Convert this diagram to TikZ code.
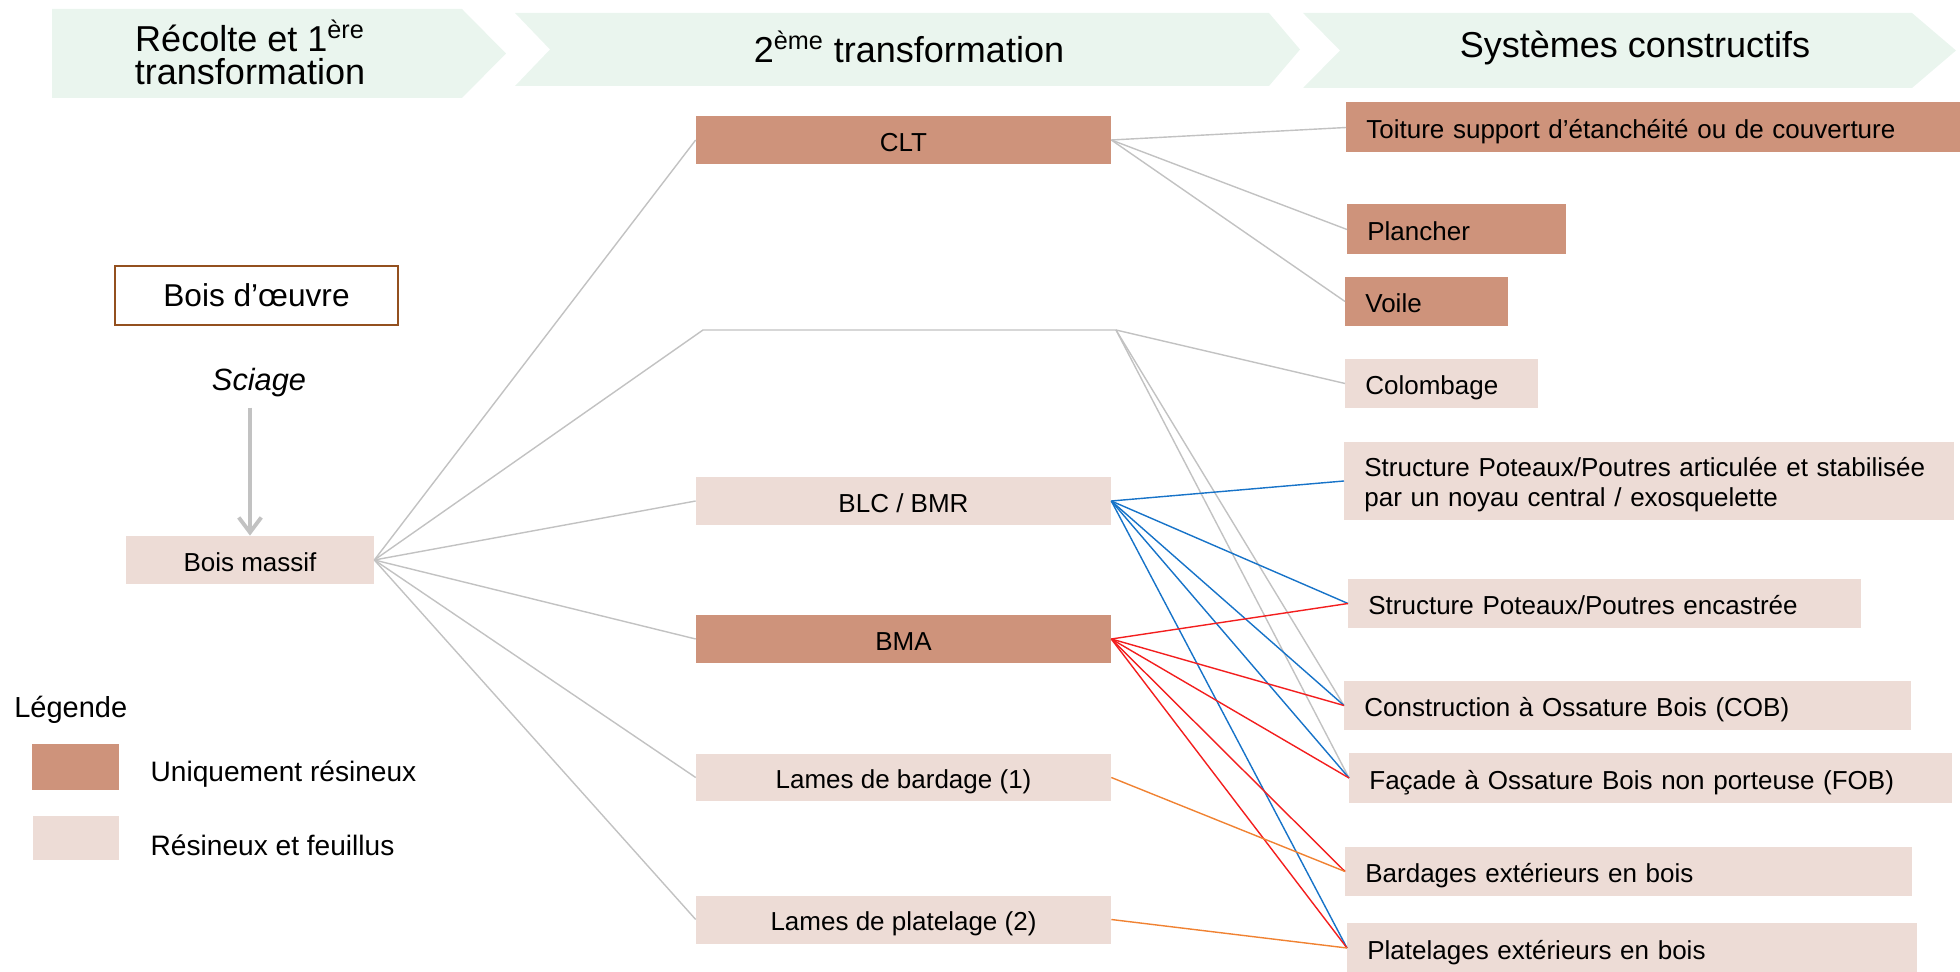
\documentclass[tikz,border=0pt]{standalone}
\usepackage{fontspec}
\setmainfont{Liberation Sans}
\usetikzlibrary{arrows.meta,positioning}
\definecolor{resineux}{HTML}{CE937B}
\definecolor{mixte}{HTML}{EDDCD6}
\definecolor{bandeau}{HTML}{EAF5EE}
\definecolor{brique}{HTML}{93501F}
\definecolor{liengris}{HTML}{C2C2C2}
\definecolor{lienbleu}{HTML}{1773C8}
\definecolor{lienrouge}{HTML}{F31E1E}
\definecolor{lienorange}{HTML}{F08232}

\begin{document}
\begin{tikzpicture}[
    x=0.02cm, y=-0.02cm,
    font=\fontsize{14.8}{17.5}\selectfont,
    ligne/.style={text height=15pt, text depth=2pt},
    prod/.style={ligne, minimum width=8.3cm, minimum height=0.96cm, inner sep=0pt, align=center},
    sys/.style={ligne, anchor=west, minimum height=1cm, inner xsep=0.4cm, inner ysep=0pt, align=left},
    seul/.style={fill=resineux},
    tous/.style={fill=mixte},
    head/.style={font=\fontsize{20.5}{18.5}\selectfont, align=center},
    legtxt/.style={inner sep=0pt, yshift=-0.14cm, font=\fontsize{16}{19}\selectfont},
    lien/.style={line width=0.8pt, draw=liengris},
    bleu/.style={line width=0.8pt, draw=lienbleu},
    rouge/.style={line width=0.8pt, draw=lienrouge},
    lienor/.style={line width=0.8pt, draw=lienorange},
    fleche/.style={-{Straight Barb[length=0.3cm, width=0.45cm]}, line width=2.2pt, draw=liengris}
]
\useasboundingbox (0,0) rectangle (1960,972);

\fill[bandeau] (52,9) -- (462,9) -- (506,53.5) -- (462,98) -- (52,98) -- cycle;
\fill[bandeau] (515,13) -- (1269,13) -- (1300,49.5) -- (1269,86) -- (515,86) -- (550,49.5) -- cycle;
\fill[bandeau] (1303,13) -- (1912,13) -- (1956,50.5) -- (1912,88) -- (1303,88) -- (1340,50.5) -- cycle;

\node[head] (recolte) at (250,55) {Récolte et 1\smash{\textsuperscript{ère}}\\transformation};
\node[head] (second) at (909,50) {2\smash{\textsuperscript{ème}} transformation};
\node[head] (systemes) at (1635,48) {Systèmes constructifs};

\node[draw=brique, line width=1.2pt, minimum width=5.66cm, minimum height=1.18cm, font=\fontsize{18}{20}\selectfont] (oeuvre) at (256.5,295.5) {Bois d’œuvre};
\node[font=\fontsize{17.5}{20}\selectfont\itshape] (sciage) at (259,383) {Sciage};
\node[tous, ligne, minimum width=4.96cm, minimum height=0.96cm] (massif) at (250,560) {Bois massif};

\node[prod, seul] (clt) at (903.5,140) {CLT};
\coordinate (vide) at (703,330);
\coordinate (videE) at (1116,330);
\node[prod, tous] (blc) at (903.5,501) {BLC / BMR};
\node[prod, seul] (bma) at (903.5,639) {BMA};
\node[prod, tous] (bardage) at (903.5,777.5) {Lames de bardage (1)};
\node[prod, tous] (platelage) at (903.5,919.5) {Lames de platelage (2)};

\node[sys, seul, text width=11.48cm] (toiture) at (1346,127.5) {Toiture support d’étanchéité ou de couverture};
\node[sys, seul, text width=3.58cm] (plancher) at (1347,229.5) {Plancher};
\node[sys, seul, text width=2.46cm] (voile) at (1345,301.5) {Voile};
\node[sys, tous, text width=3.06cm] (colombage) at (1345,383.5) {Colombage};
\node[sys, tous, text width=11.4cm, minimum height=1.56cm, text height=11.8pt, text depth=17pt, font=\fontsize{14.8}{17}\selectfont] (articulee) at (1344,481) {Structure Poteaux/Poutres articulée et stabilisée\\par un noyau central / exosquelette};
\node[sys, tous, text width=9.46cm] (encastree) at (1348,603.5) {Structure Poteaux/Poutres encastrée};
\node[sys, tous, text width=10.54cm] (cob) at (1344,705.5) {Construction à Ossature Bois (COB)};
\node[sys, tous, text width=11.26cm] (fob) at (1349,778) {Façade à Ossature Bois non porteuse (FOB)};
\node[sys, tous, text width=10.54cm] (bardext) at (1345,871.5) {Bardages extérieurs en bois};
\node[sys, tous, text width=10.6cm] (platext) at (1347,948) {Platelages extérieurs en bois};

\node[anchor=west, inner sep=0pt, font=\fontsize{16.5}{19}\selectfont] (legende) at (14,710) {Légende};
\node[seul, minimum width=1.74cm, minimum height=0.92cm, inner sep=0pt] (leg1) at (75.5,767) {};
\node[tous, minimum width=1.72cm, minimum height=0.88cm, inner sep=0pt] (leg2) at (76,838) {};
\node[right=0.62cm of leg1, legtxt] (legtxt1) {Uniquement résineux};
\node[right=0.62cm of leg2, legtxt] (legtxt2) {Résineux et feuillus};

\draw[fleche] (sciage.south -| massif.north) ++(0,4) -- (massif.north);

\draw[lien] (massif.east) -- (clt.west);
\draw[lien] (massif.east) -- (vide) -- (videE);
\draw[lien] (massif.east) -- (blc.west);
\draw[lien] (massif.east) -- (bma.west);
\draw[lien] (massif.east) -- (bardage.west);
\draw[lien] (massif.east) -- (platelage.west);

\draw[lien] (clt.east) -- (toiture.west);
\draw[lien] (clt.east) -- (plancher.west);
\draw[lien] (clt.east) -- (voile.west);
\draw[lien] (videE) -- (colombage.west);
\draw[lien] (videE) -- (cob.west);
\draw[lien] (videE) -- (fob.west);

\foreach \cible in {articulee, encastree, cob, fob, platext}
    \draw[bleu] (blc.east) -- (\cible.west);
\foreach \cible in {encastree, cob, fob, bardext, platext}
    \draw[rouge] (bma.east) -- (\cible.west);
\draw[lienor] (bardage.east) -- (bardext.west);
\draw[lienor] (platelage.east) -- (platext.west);

\end{tikzpicture}
\end{document}
